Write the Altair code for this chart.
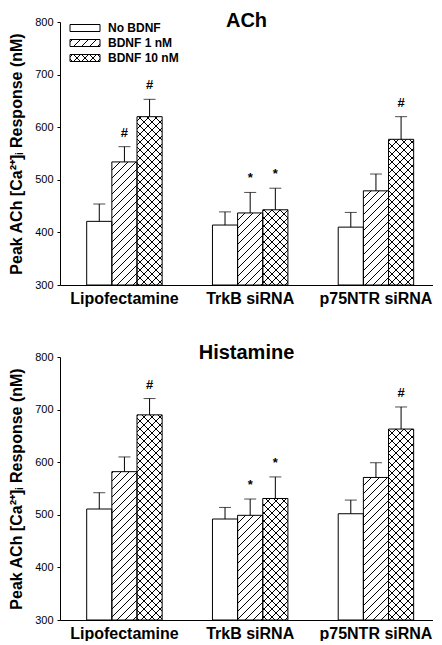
import altair as alt
import pandas as pd
from altair.utils import html as _althtml

# ---------------- data ----------------
groups = ["Lipofectamine", "TrkB siRNA", "p75NTR siRNA"]
conditions = ["No BDNF", "BDNF 1 nM", "\u00a0BDNF 10 nM"]

ach_mean = [421, 534, 620, 414, 437, 443, 410, 479, 577]
ach_err = [33, 29, 33, 25, 39, 41, 28, 32, 43]
ach_sig = ["", "#", "#", "", "*", "*", "", "", "#"]

hist_mean = [511, 582, 690, 492, 499, 531, 502, 571, 663]
hist_err = [31, 28, 31, 22, 31, 41, 26, 28, 42]
hist_sig = ["", "", "#", "", "*", "*", "", "", "#"]

y_ticks = [300, 400, 500, 600, 700, 800]
y_title = "Peak ACh [Ca\u00b2\u207a]\u1d62 Response (nM)"

FONT = "Liberation Sans"

# SVG hatch patterns referenced by the fills
PATTERN_DEFS = (
    '<svg width="0" height="0" style="position:absolute;left:0;top:0" aria-hidden="true">'
    "<defs>"
    '<pattern id="hatchA" patternUnits="userSpaceOnUse" width="8" height="8">'
    '<path d="M-2,2 L2,-2 M0,8 L8,0 M6,10 L10,6" stroke="black" stroke-width="1"/>'
    "</pattern>"
    '<pattern id="hatchB" patternUnits="userSpaceOnUse" width="8" height="8">'
    '<path d="M-2,2 L2,-2 M0,8 L8,0 M6,10 L10,6 M-2,6 L2,10 M0,0 L8,8 M6,-2 L10,2" '
    'stroke="black" stroke-width="1"/>'
    "</pattern>"
    "</defs></svg>"
)


class PatternTemplate:
    def render(self, **kw):
        out = _althtml.HTML_TEMPLATE.render(**kw)
        if "<body>" in out:
            return out.replace("<body>", "<body>" + PATTERN_DEFS, 1)
        return out.replace('<div id="', PATTERN_DEFS + '<div id="', 1)


def make_df(means, errs, sigs):
    rows = []
    k = 0
    for g in groups:
        for c in conditions:
            rows.append({"group": g, "cond": c, "mean": means[k],
                         "top": means[k] + errs[k], "sig": sigs[k]})
            k += 1
    return pd.DataFrame(rows)


def panel(title, means, errs, sigs, show_legend, height, title_offset):
    df = make_df(means, errs, sigs)
    base = alt.Chart(df)
    x = alt.X("group:N", sort=groups,
              scale=alt.Scale(paddingInner=0.4, paddingOuter=0.183, align=0.58),
              axis=alt.Axis(title=None, labelAngle=0, labelFont=FONT,
                            labelFontSize=16, labelFontWeight="bold",
                            labelColor="black", ticks=False, labelPadding=5,
                            domainColor="black", domainWidth=1))
    xo = alt.XOffset("cond:N", sort=conditions,
                     scale=alt.Scale(paddingInner=0, paddingOuter=0))
    yscale = alt.Scale(domain=[300, 800], nice=False, zero=False)
    y = alt.Y("mean:Q", scale=yscale,
              axis=alt.Axis(values=y_ticks, grid=False, tickSize=3,
                            tickColor="black", domainColor="black",
                            labelFont=FONT, labelFontSize=11, labelColor="black",
                            labelPadding=4, title=y_title, titleFont=FONT,
                            titleFontSize=16, titleFontWeight="bold",
                            titleColor="black", titlePadding=10))
    if show_legend:
        leg = alt.Legend(orient="none", legendX=19, legendY=0, title=None,
                         symbolType="M-3.75,-0.875H3.75V0.875H-3.75Z", symbolSize=64,
                         symbolStrokeColor="black", symbolStrokeWidth=1,
                         symbolOpacity=1, labelFont=FONT, labelFontSize=12,
                         labelFontWeight="bold", labelColor="black",
                         labelOffset=17, rowPadding=3, padding=0)
    else:
        leg = None
    fill = alt.Fill("cond:N", sort=conditions,
                    scale=alt.Scale(domain=conditions,
                                    range=["white", "url(#hatchA)", "url(#hatchB)"]),
                    legend=leg)
    bars = base.mark_bar(stroke="black", strokeWidth=1, opacity=1).encode(
        x=x, xOffset=xo, y=y, y2=alt.datum(300), fill=fill)
    err = base.mark_rule(color="black", strokeWidth=1).encode(
        x=x, xOffset=xo, y=alt.Y("mean:Q", scale=yscale), y2="top:Q")
    cap = base.mark_tick(color="black", thickness=1, size=12).encode(
        x=x, xOffset=xo, y=alt.Y("top:Q", scale=yscale))
    txt = base.mark_text(baseline="alphabetic", dy=-10, font=FONT, fontSize=13,
                         fontWeight="bold", color="black").encode(
        x=x, xOffset=xo, y=alt.Y("top:Q", scale=yscale), text="sig:N")
    return alt.layer(bars, err, cap, txt).properties(
        width=373, height=height,
        title=alt.Title(title, font=FONT, fontSize=20, fontWeight="bold",
                        color="black", anchor="middle", offset=title_offset))


top = panel("ACh", ach_mean, ach_err, ach_sig, True, 263, -15)
bottom = panel("Histamine", hist_mean, hist_err, hist_sig, False, 263, -12)

chart = alt.vconcat(top, bottom, spacing=37).resolve_scale(
    fill="independent").configure_view(stroke=None).properties(
    padding={"top": 3, "left": 0, "right": 0, "bottom": 0})

chart.save("out.html", embed_options={"renderer": "svg", "actions": False},
           template=PatternTemplate())
